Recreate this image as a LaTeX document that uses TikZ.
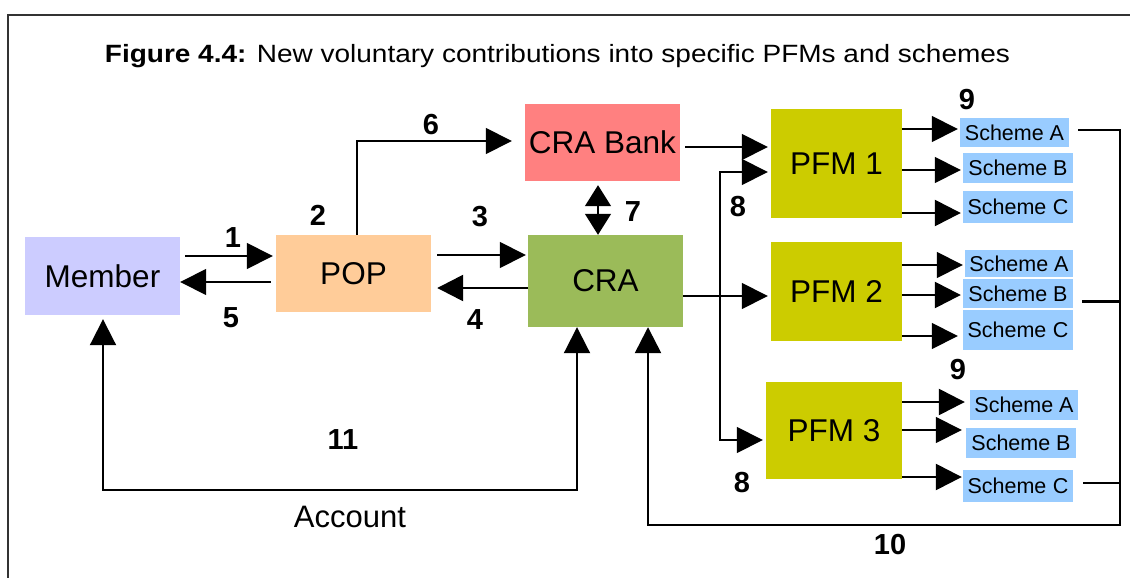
\documentclass[tikz,border=0pt]{standalone}
\usepackage{fontspec}
\setmainfont{Liberation Sans}
\usetikzlibrary{arrows.meta,calc}
\definecolor{cMember}{HTML}{CCCCFF}
\definecolor{cPOP}{HTML}{FFCC99}
\definecolor{cBank}{HTML}{FF8080}
\definecolor{cCRA}{HTML}{9BBB59}
\definecolor{cPFM}{HTML}{CCCC00}
\definecolor{cScheme}{HTML}{99CCFF}
\definecolor{cFrame}{HTML}{333333}
\tikzset{
  box/.style={inner sep=0pt, font=\fontsize{31.5}{31.5}\selectfont},
  schemebox/.style={inner sep=0pt, fill=cScheme, font=\fontsize{21.5}{21.5}\selectfont},
  num/.style={font=\fontsize{29}{29}\selectfont\bfseries, inner sep=0pt},
  arr/.style={draw, line width=1.5pt, -{Triangle[length=26pt,width=26pt]}},
  arrthick/.style={arr, line width=2.5pt},
  arrboth/.style={draw, line width=1.5pt, {Triangle[length=26pt,width=26pt]}-{Triangle[length=26pt,width=26pt]}},
  dbl/.style={draw, line width=1.5pt, {Triangle[length=21pt,width=26pt]}-{Triangle[length=21pt,width=26pt]}},
  plain/.style={draw, line width=2pt},
}
\begin{document}
\begin{tikzpicture}[x=1pt,y=-1pt]
\useasboundingbox (0,0) rectangle (1130,578);
% frame
\draw[cFrame, line width=2pt] (8,578) -- (8,15) -- (1130,15);
% title
\node[inner sep=0pt] (title) at (557.5,56) {\scalebox{1.12}[1]{\fontsize{25}{25}\selectfont\textbf{Figure 4.4:} New voluntary contributions into specific PFMs and schemes}};
% boxes
\node[box, fill=cMember, minimum width=155pt, minimum height=78pt] (Member) at (102.5,276) {Member};
\node[box, fill=cPOP, minimum width=155pt, minimum height=77pt] (POP) at (353.5,273.5) {POP};
\node[box, fill=cBank, minimum width=155pt, minimum height=77pt] (CRABank) at (602.5,142.5) {CRA Bank};
\node[box, fill=cCRA, minimum width=155pt, minimum height=92pt] (CRA) at (605.5,281) {CRA};
\node[box, fill=cPFM, minimum width=131pt, minimum height=109pt] (PFM1) at (836.5,163.5) {PFM 1};
\node[box, fill=cPFM, minimum width=131pt, minimum height=99pt] (PFM2) at (836.5,291.5) {PFM 2};
\node[box, fill=cPFM, minimum width=136pt, minimum height=97pt] (PFM3) at (834,430.5) {PFM 3};
% schemes
\node[schemebox, minimum width=109pt, minimum height=29pt] (S1A) at (1014.5,132.5) {Scheme A};
\node[schemebox, minimum width=110pt, minimum height=30pt] (S1B) at (1018,168) {Scheme B};
\node[schemebox, minimum width=110pt, minimum height=32pt] (S1C) at (1018,207) {Scheme\hspace{0.3em}C};
\node[schemebox, minimum width=108pt, minimum height=27pt] (S2A) at (1019,263.5) {Scheme A};
\node[schemebox, minimum width=110pt, minimum height=29pt] (S2B) at (1018,293.5) {Scheme B};
\node[schemebox, minimum width=110pt, minimum height=40pt] (S2C) at (1018,330) {\raisebox{-5pt}{Scheme\hspace{0.3em}C}};
\node[schemebox, minimum width=108pt, minimum height=30pt] (S3A) at (1024,405) {Scheme A};
\node[schemebox, minimum width=110pt, minimum height=30pt] (S3B) at (1021,443) {Scheme B};
\node[schemebox, minimum width=110pt, minimum height=32pt] (S3C) at (1018,486) {\raisebox{-3pt}{Scheme\hspace{0.3em}C}};
% Member <-> POP
\draw[arr] ($(Member.east)+(5,-20)$) -- ($(POP.west)+(-3,-17.5)$);
\draw[arr] ($(POP.west)+(-5,8.5)$) -- ($(Member.east)+(0,6)$);
% POP <-> CRA
\draw[arr] ($(POP.east)+(6,-18.5)$) -- ($(CRA.west)+(-2,-26)$);
\draw[arrthick] ($(CRA.west)+(0,7)$) -- ($(POP.east)+(6,14.5)$);
% POP -> CRA Bank
\draw[arr] ($(POP.north)+(3.5,0)$) |- ($(CRABank.west)+(-13,-1.5)$);
% CRA Bank <-> CRA
\draw[dbl] ($(CRABank.south)+(-4.5,4)$) -- ($(CRA.north)+(-7.5,0)$);
% CRA Bank -> PFM1
\draw[arr] ($(CRABank.east)+(5,4.5)$) -- ($(PFM1.west)+(-3,-16.5)$);
% CRA -> PFM2
\draw[arr] ($(CRA.east)+(0,15)$) -- ($(PFM2.west)+(-3,4.5)$);
% branch 8
\draw[arrboth] ($(PFM1.west)+(-3,8.5)$) -- ++(-48,0) |- ($(PFM3.west)+(-3,9.5)$);
% PFM1 -> schemes
\draw[arr] ($(PFM1.east)+(0,-34.5)$) -- ($(S1A.west)+(-2,-3.5)$);
\draw[arr] ($(PFM1.east)+(0,6.5)$) -- ($(S1B.west)+(-2,2)$);
\draw[arrthick] ($(PFM1.east)+(0,49.5)$) -- ($(S1C.west)+(-2,6)$);
% PFM2 -> schemes
\draw[arr] ($(PFM2.east)+(0,-26.5)$) -- ($(S2A.west)+(-2,1.5)$);
\draw[arrthick] ($(PFM2.east)+(0,3.5)$) -- ($(S2B.west)+(-2,1.5)$);
\draw[arr] ($(PFM2.east)+(0,44.5)$) -- ($(S2C.west)+(-5,6)$);
% PFM3 -> schemes
\draw[arrthick] ($(PFM3.east)+(0,-28.5)$) -- ($(S3A.west)+(-5,-3)$);
\draw[arr] ($(PFM3.east)+(0,-0.5)$) -- ($(S3B.west)+(-4,-13)$);
\draw[arrthick] ($(PFM3.east)+(0,46.5)$) -- ($(S3C.west)+(-1,-9)$);
% return 10
\coordinate (c10) at (1120,525);
\draw[arrthick] ($(S1A.east)+(9,-2.5)$) -| (c10) -| ($(CRA.south)+(42.5,0)$);
\draw[plain, line width=2.5pt] ($(S2B.east)+(9,8)$) -- ($(S2B.east)+(47,8)$);
\draw[plain, line width=1.5pt] ($(S3C.east)+(10,-3)$) -- ($(S3C.east)+(47,-3)$);
% account 11
\coordinate (c11) at (340,490);
\draw[arrboth, line width=2pt] ($(Member.south)+(0.5,4)$) |- (c11) -| ($(CRA.south)+(-28.5,0)$);
% labels
\node[num] (n1) at (233,238) {1};
\node[num] (n5) at (231,318) {5};
\node[num] (n2) at (318,215) {2};
\node[num] (n6) at (431,125) {6};
\node[num] (n3) at (480,217) {3};
\node[num] (n4) at (475,320) {4};
\node[num] (n7) at (633,212) {7};
\node[num] (n8a) at (738,207) {8};
\node[num] (n8b) at (742,483) {8};
\node[num] (n9a) at (967,100) {9};
\node[num] (n9b) at (958,370) {9};
\node[num] (n10) at (890,545) {10};
\node[num] (n11) at (343,440) {11};
\node[inner sep=0pt, font=\fontsize{31}{31}\selectfont] (acc) at (350,517) {Account};
\end{tikzpicture}
\end{document}
